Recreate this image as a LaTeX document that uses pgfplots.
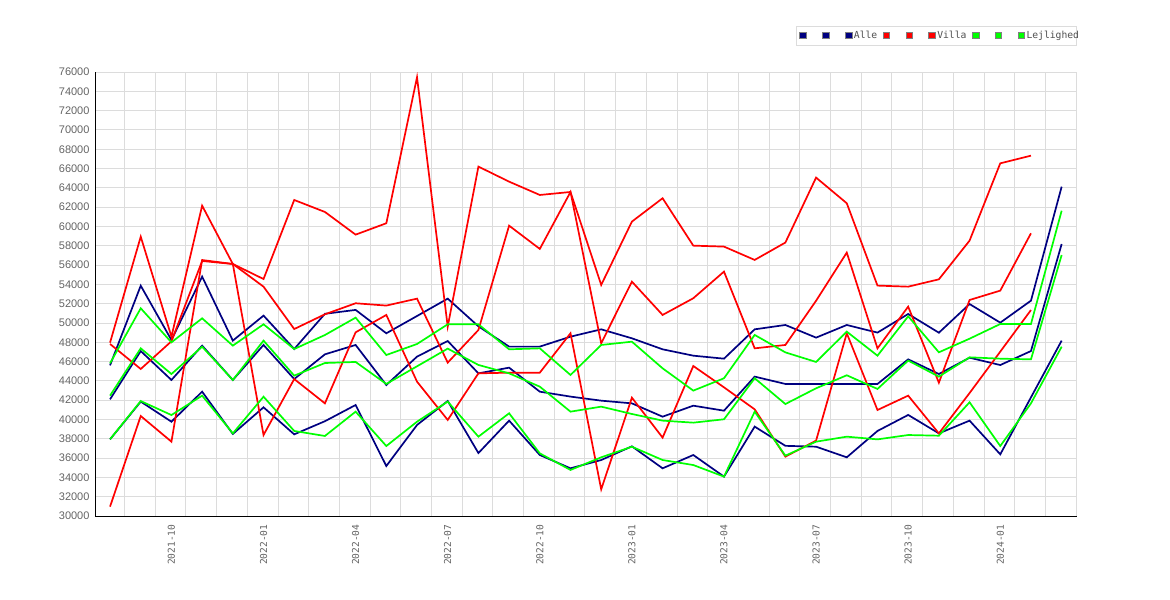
\documentclass[border=0pt]{standalone}
\usepackage{pgfplots}
\usepackage{pgfplotstable}
\pgfplotsset{compat=1.18}
\usepackage{fontspec}
\setmainfont{Liberation Sans}
\newfontfamily\monofont{DejaVu Sans Mono}
\definecolor{navyc}{RGB}{0,0,128}
\definecolor{redc}{RGB}{255,0,0}
\definecolor{limec}{RGB}{0,255,0}
\definecolor{gridc}{RGB}{220,220,220}
\definecolor{tickc}{RGB}{100,100,100}
\definecolor{legc}{RGB}{80,80,80}
\pgfplotstableread{
x a1 a2 a3 v1 v2 v3 l1 l2 l3
0 45610 42090 37940 47960 47820 30970 45820 42470 37950
1 53860 47090 41850 58940 45230 40360 51520 47370 41910
2 48230 44090 39770 48580 48100 37700 47990 44710 40460
3 54800 47650 42880 62150 56420 56520 50480 47540 42470
4 48170 44090 38500 56110 56110 56110 47650 44090 38560
5 50760 47720 41260 54550 53760 38390 49860 48170 42360
6 47300 44190 38460 62740 49370 44190 47300 44540 38810
7 50950 46750 39820 61500 50900 41670 48750 45850 38290
8 51350 47720 41500 59150 52040 49030 50550 45960 40810
9 48930 43570 35180 60330 51800 50830 46680 43680 37250
10 50720 46510 39430 75455 52520 43920 47820 45510 39770
11 52520 48130 41920 49620 45890 39950 49860 47340 41850
12 49650 44780 36520 66200 49270 44780 49860 45650 38220
13 47550 45370 39880 64640 60080 44850 47270 44780 40640
14 47550 42880 36320 63260 57670 44850 47370 43400 36490
15 48580 42370 34940 63570 63570 48930 44610 40810 34770
16 49340 41950 35800 53940 47890 32760 47720 41330 36080
17 48410 41670 37220 60500 54280 42260 48060 40570 37180
18 47270 40290 34940 62920 50830 38120 45300 39880 35800
19 46610 41430 36320 58010 52560 45540 42990 39670 35280
20 46300 40910 34080 57910 55320 43330 44270 40020 34080
21 49340 44440 39260 56530 47370 41050 48760 44270 40810
22 49790 43680 37270 58330 47720 36150 46950 41600 36250
23 48480 43680 37180 65060 52300 37810 45960 43230 37700
24 49790 43680 36080 62400 57290 48930 49100 44580 38220
25 49000 43680 38810 53870 47370 40980 46610 43160 37940
26 50930 46230 40470 53760 51690 42470 50690 46100 38390
27 48990 44710 38560 54520 43810 38560 46960 44440 38320
28 51960 46400 39880 58530 52380 42740 48370 46440 41780
29 50030 45640 36390 66540 53350 47030 49890 46300 37250
30 52310 47090 42290 67330 59290 51340 49890 46230 41670
31 64120 58180 48170 nan nan nan 61630 57040 47540
}\datatable
\begin{document}
\begin{tikzpicture}
\useasboundingbox (0,0) rectangle (1170bp,600bp);
\begin{axis}[
  at={(95bp,84bp)}, anchor=south west,
  width=981.7bp, height=444bp, scale only axis,
  xmin=-0.49, xmax=31.49,
  ymin=30000, ymax=76000,
  axis lines*=left,
  axis line style={black, line width=1bp},
  xtick={2,5,8,11,14,17,20,23,26,29},
  xticklabels={2021-10,2022-01,2022-04,2022-07,2022-10,2023-01,2023-04,2023-07,2023-10,2024-01},
  minor xtick={0.47,1.47,...,31.47},
  ytick={30000,32000,...,76000},
  scaled y ticks=false,
  xmajorgrids=false, xminorgrids=true, ymajorgrids=true,
  grid style={draw=gridc, line width=0.9bp},
  minor grid style={draw=gridc, line width=0.9bp},
  major tick length=0pt, minor tick length=0pt,
  /pgf/number format/assume math mode=true,
  /pgf/number format/1000 sep={},
  yticklabel style={font=\fontsize{11bp}{12bp}\selectfont, text=tickc, xshift=-2bp},
  xticklabel style={font=\fontsize{9.6bp}{11bp}\monofont, text=tickc, yshift=-5bp, rotate=90, anchor=east},
  every axis plot/.append style={line width=1.7bp, mark=none},
  legend columns=9,
  legend style={at={(1,1)}, anchor=north east, xshift=0bp, yshift=46bp,
    draw=gridc, fill=white, inner xsep=3bp, inner ysep=3bp,
    font=\fontsize{9.7bp}{11bp}\monofont, text=legc,
    nodes={inner xsep=0bp, inner ysep=2bp},
    /tikz/every odd column/.style={column sep=1.5bp},
    /tikz/every even column/.style={column sep=5.5bp}},
  legend image code/.code={\filldraw[#1, draw=gray, line width=0.8bp] (0bp,-3.2bp) rectangle (6.6bp,3.2bp);},
]
\addplot[color=navyc] table[x=x,y=a1]{\datatable}; \addlegendentry{\hspace*{8.4bp}}
\addplot[color=navyc] table[x=x,y=a2]{\datatable}; \addlegendentry{\hspace*{8.4bp}}
\addplot[color=navyc] table[x=x,y=a3]{\datatable}; \addlegendentry{Alle}
\addplot[color=redc] table[x=x,y=v1]{\datatable}; \addlegendentry{\hspace*{8.4bp}}
\addplot[color=redc] table[x=x,y=v2]{\datatable}; \addlegendentry{\hspace*{8.4bp}}
\addplot[color=redc] table[x=x,y=v3]{\datatable}; \addlegendentry{Villa}
\addplot[color=limec] table[x=x,y=l1]{\datatable}; \addlegendentry{\hspace*{8.4bp}}
\addplot[color=limec] table[x=x,y=l2]{\datatable}; \addlegendentry{\hspace*{8.4bp}}
\addplot[color=limec] table[x=x,y=l3]{\datatable}; \addlegendentry{\rlap{Lejlighed}\hspace*{47bp}}
\end{axis}
\end{tikzpicture}
\end{document}
